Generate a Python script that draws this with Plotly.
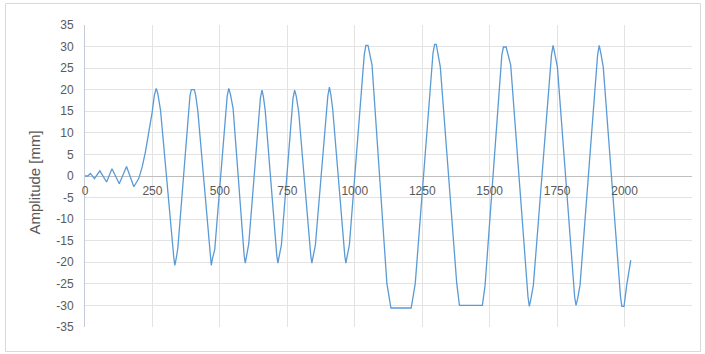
import plotly.graph_objects as go

# Data (sample time, amplitude in mm)
time_x = [0, 10, 20, 35, 55, 80, 100, 127, 154, 181, 199, 212, 224, 236, 249, 257, 264, 270, 280,
          329, 333, 339, 344,
          389, 394, 405, 410, 418,
          464, 468, 473, 481,
          527, 533, 539, 549,
          590, 594, 599, 607,
          650, 656, 661, 668,
          711, 715, 720, 728,
          771, 777, 783, 792,
          837, 841, 846, 854,
          900, 906, 911, 918,
          963, 967, 972, 980,
          1035, 1041, 1049, 1054, 1064,
          1119, 1134, 1209, 1224,
          1290, 1296, 1302, 1307, 1317,
          1378, 1388, 1473, 1483,
          1545, 1551, 1561, 1567, 1578,
          1642, 1647, 1653, 1662,
          1729, 1735, 1741, 1751,
          1815, 1820, 1826, 1835,
          1900, 1906, 1912, 1921,
          1985, 1990, 1998, 2002, 2008, 2023]
amplitude = [0, 0, 0.6, -0.6, 1.2, -1.4, 1.7, -1.8, 2.2, -2.5, -0.6, 2.1, 5.6, 9.8, 14.8, 18.7, 20.3, 19.1, 15.2,
             -18.8, -20.7, -18.8, -16.8,
             18.5, 20, 20, 18.8, 15.2,
             -18.8, -20.7, -19, -17,
             18.5, 20.3, 19, 15.6,
             -18.5, -20.2, -18.5, -15.7,
             18, 19.9, 18.5, 15.2,
             -18.5, -20.2, -18.5, -16,
             18, 19.9, 18.5, 14.9,
             -18.5, -20.2, -18.5, -16,
             18.5, 20.6, 19, 15.6,
             -18.5, -20.2, -18.5, -16,
             28, 30.3, 30.3, 28.5, 25.7,
             -24.9, -30.6, -30.6, -25,
             28.5, 30.5, 30.5, 28.5, 25.3,
             -24.9, -30, -30, -25.3,
             28, 29.9, 29.9, 28.5, 25.7,
             -28, -30.2, -28.5, -25.3,
             28, 30.3, 28.5, 25.3,
             -28, -30, -28.5, -25.3,
             28, 30.3, 28.5, 25.3,
             -28, -30.2, -30.2, -28, -25.3, -19.5]

x_ticks = [0, 250, 500, 750, 1000, 1250, 1500, 1750, 2000, 2250]
y_ticks = [35, 30, 25, 20, 15, 10, 5, 0, -5, -10, -15, -20, -25, -30, -35]
y_title = "Amplitude [mm]"

W, H = 705, 354
L, R, T, B = 85, 13, 25, 27
pw, ph = W - L - R, H - T - B

def px2paper_x(px):
    return (px - L) / pw

def py2paper_y(py):
    return (H - B - py) / ph

font_family = "Liberation Sans, Arial, sans-serif"
grey = "#595959"

fig = go.Figure()
fig.add_trace(go.Scatter(x=time_x, y=amplitude, mode="lines",
                         line=dict(color="#5B9BD5", width=1.3),
                         showlegend=False, hoverinfo="skip"))

fig.update_layout(
    width=W, height=H,
    margin=dict(l=L, r=R, t=T, b=B, pad=0),
    paper_bgcolor="white", plot_bgcolor="white",
    font=dict(family=font_family, size=12, color=grey),
    xaxis=dict(range=[0, 2250], tickvals=x_ticks, ticktext=[str(v) for v in x_ticks],
               showgrid=True, gridcolor="#E3E3E3", gridwidth=1,
               zeroline=False, showline=False, ticks="",
               anchor="free", position=0.5, ticklabelstandoff=6,
               tickfont=dict(size=12, color=grey)),
    yaxis=dict(range=[-35, 35], tickvals=y_ticks, ticktext=[str(v) for v in y_ticks],
               showgrid=True, gridcolor="#E3E3E3", gridwidth=1,
               zeroline=True, zerolinecolor="#BFBFBF", zerolinewidth=1,
               showline=True, linecolor="#C4CBD6", linewidth=1, ticks="",
               ticklabelstandoff=8,
               tickfont=dict(size=12, color=grey)),
    annotations=[dict(text=y_title, xref="paper", yref="paper",
                      x=px2paper_x(34), y=py2paper_y(182.5), textangle=-90,
                      showarrow=False, xanchor="center", yanchor="middle",
                      font=dict(size=15, color=grey, family=font_family))],
    shapes=[dict(type="rect", xref="paper", yref="paper",
                 x0=px2paper_x(5.5), x1=px2paper_x(700.5),
                 y0=py2paper_y(351.5), y1=py2paper_y(3.5),
                 line=dict(color="#D9D9D9", width=1), fillcolor="rgba(0,0,0,0)",
                 layer="below")],
)

fig.write_html("out.html")
